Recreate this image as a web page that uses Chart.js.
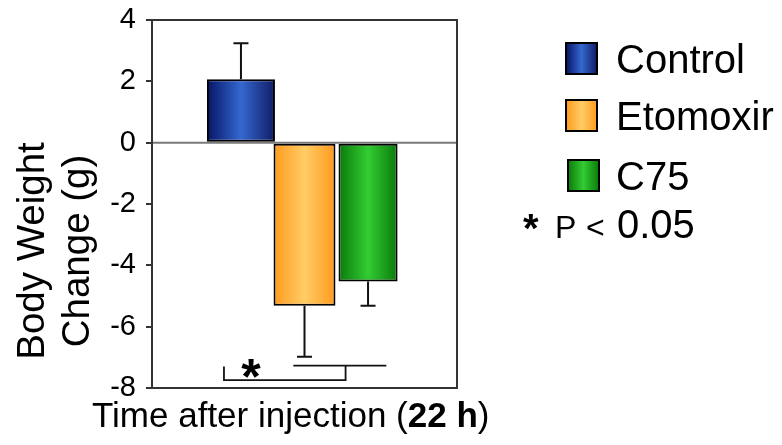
<!DOCTYPE html>
<html><head><meta charset="utf-8">
<script src="https://cdn.jsdelivr.net/npm/chart.js@4/dist/chart.umd.min.js"></script>
<style>html,body{margin:0;padding:0;background:#fff}#wrap{width:782px;height:445px;position:relative}</style>
</head><body><div id="wrap"><canvas id="c"></canvas></div>
<script>
// ---- data ----
const groups = ['Control', 'Etomoxir', 'C75'];
const changeValues = [2.07, -5.32, -4.53];      // body weight change (g)
const errorValues = [1.17, 1.66, 0.79];         // error bar length (g)
const yTickValues = [4, 2, 0, -2, -4, -6, -8];
const xTitleNormal = 'Time after injection (';
const xTitleBold = '22 h';
const xTitleEnd = ')';
const yTitleLines = ['Body Weight', 'Change (g)'];
const sigText = ['*', 'P', '<', '0.05'];
const bracketLevels = [-7.30, -7.74, -7.27];   // bracket y levels (g)

// ---- styles ----
const FONT = '"Liberation Sans", Arial, Helvetica, sans-serif';
const gradients = [
  ['#061466', '#3468cf', '#101c66'],
  ['#ff9a1c', '#ffcc66', '#ff9a1c'],
  ['#0a7a0a', '#33cc33', '#0a7a0a']
];
const barPct = [1.07, 0.975, 0.93];

function grad(ctx, x0, x1, s) {
  const g = ctx.createLinearGradient(x0, 0, x1, 0);
  g.addColorStop(0, s[0]); g.addColorStop(0.5, s[1]); g.addColorStop(1, s[2]);
  return g;
}

const custom = {
  id: 'custom',
  beforeDatasetsDraw(chart) {
    const { ctx, chartArea: a, scales: { y } } = chart;
    const y0 = y.getPixelForValue(0);
    ctx.save();
    ctx.strokeStyle = '#7a7a7a'; ctx.lineWidth = 2;
    ctx.beginPath(); ctx.moveTo(a.left, y0); ctx.lineTo(a.right, y0); ctx.stroke();
    ctx.restore();
    chart.data.datasets.forEach((ds, i) => {
      const el = chart.getDatasetMeta(i).data[0];
      const l = el.x - el.width / 2, r = el.x + el.width / 2;
      el.options = Object.assign({}, el.options, { backgroundColor: grad(ctx, l, r, gradients[i]) });
    });
  },
  afterDatasetsDraw(chart) {
    const { ctx, chartArea: a, scales: { y } } = chart;
    ctx.save();
    ctx.strokeStyle = '#111'; ctx.lineWidth = 2;
    const els = chart.data.datasets.map((d, i) => chart.getDatasetMeta(i).data[0]);
    // error bars (one-sided)
    els.forEach((el, i) => {
      const v = changeValues[i], e = errorValues[i];
      const end = v >= 0 ? v + e : v - e;
      const yb = y.getPixelForValue(v), ye = y.getPixelForValue(end);
      ctx.beginPath();
      ctx.moveTo(el.x, yb); ctx.lineTo(el.x, ye);
      ctx.moveTo(el.x - 7.5, ye); ctx.lineTo(el.x + 7.5, ye);
      ctx.stroke();
    });
    // significance bracket
    const xl = els[0].x - 0.25 * els[0].width;
    const xr = els[2].x - 0.38 * els[2].width;
    const x2a = els[1].x - 0.18 * els[1].width;
    const x2b = els[2].x + 0.31 * els[2].width;
    const yTop = y.getPixelForValue(bracketLevels[0]);
    const yLow = y.getPixelForValue(bracketLevels[1]);
    const yTop2 = y.getPixelForValue(bracketLevels[2]);
    ctx.lineWidth = 1.8;
    ctx.beginPath();
    ctx.moveTo(xl, yTop); ctx.lineTo(xl, yLow); ctx.lineTo(xr, yLow); ctx.lineTo(xr, yTop2);
    ctx.moveTo(x2a, yTop2); ctx.lineTo(x2b, yTop2);
    ctx.stroke();
    ctx.fillStyle = '#000';
    ctx.font = 'bold 50px ' + FONT;
    ctx.textAlign = 'center'; ctx.textBaseline = 'alphabetic';
    ctx.fillText('*', xl + 27, yLow + 14);
    // frame
    ctx.strokeStyle = '#333'; ctx.lineWidth = 2;
    ctx.strokeRect(a.left, a.top, a.right - a.left, a.bottom - a.top);
    ctx.restore();
  },
  afterDraw(chart) {
    const { ctx } = chart;
    ctx.save();
    ctx.fillStyle = '#000';
    // y title
    ctx.save();
    ctx.font = '38.5px ' + FONT;
    ctx.textAlign = 'center'; ctx.textBaseline = 'alphabetic';
    ctx.translate(0, 251);
    ctx.rotate(-Math.PI / 2);
    ctx.fillText(yTitleLines[0], 0, 44);
    ctx.fillText(yTitleLines[1], 0, 89);
    ctx.restore();
    // x title
    ctx.textAlign = 'left'; ctx.textBaseline = 'alphabetic';
    let x = 92; const by = 427;
    ctx.font = '35px ' + FONT;
    ctx.fillText(xTitleNormal, x, by); x += ctx.measureText(xTitleNormal).width;
    ctx.font = 'bold 35px ' + FONT;
    ctx.fillText(xTitleBold, x, by); x += ctx.measureText(xTitleBold).width;
    ctx.font = '35px ' + FONT;
    ctx.fillText(xTitleEnd, x, by);
    // legend
    const boxes = [[566, 43], [566, 100], [568, 160]];
    const base = [73, 130, 190];
    groups.forEach((g, i) => {
      const [bx, byy] = boxes[i];
      ctx.fillStyle = grad(ctx, bx, bx + 31, gradients[i]);
      ctx.fillRect(bx, byy, 31, 31);
      ctx.strokeStyle = '#000'; ctx.lineWidth = 2;
      ctx.strokeRect(bx, byy, 31, 31);
      ctx.fillStyle = '#000';
      ctx.font = '40px ' + FONT;
      ctx.fillText(g, 616, base[i]);
    });
    // significance note
    ctx.font = 'bold 40px ' + FONT;
    ctx.fillText(sigText[0], 523, 242);
    ctx.font = '32px ' + FONT;
    ctx.fillText(sigText[1], 555, 238);
    ctx.font = '32px ' + FONT;
    ctx.fillText(sigText[2], 586, 238);
    ctx.font = '40px ' + FONT;
    ctx.fillText(sigText[3], 617, 238);
    ctx.restore();
  }
};

const datasets = groups.map((g, i) => ({
  label: g,
  data: [changeValues[i]],
  backgroundColor: gradients[i][1],
  borderColor: '#000',
  borderWidth: 2,
  borderSkipped: false,
  barPercentage: barPct[i],
  categoryPercentage: 0.625
}));

new Chart(document.getElementById('c'), {
  type: 'bar',
  data: { labels: [''], datasets },
  options: {
    responsive: true,
    maintainAspectRatio: false,
    animation: false,
    layout: { padding: { left: 0, top: 20, right: 325, bottom: 57 } },
    plugins: { legend: { display: false }, tooltip: { enabled: false } },
    scales: {
      x: { display: false },
      y: {
        min: -8, max: 4,
        afterFit(scale) { scale.width = 152; scale.paddingTop = 0; scale.paddingBottom = 0; },
        afterBuildTicks(scale) { scale.ticks = yTickValues.map(v => ({ value: v })); },
        ticks: { color: '#000', font: { size: 29, family: FONT }, padding: 10 },
        grid: { drawOnChartArea: false, drawTicks: true, tickLength: 6, color: '#333', lineWidth: 2 },
        border: { display: true, color: '#333', width: 2 }
      }
    }
  },
  plugins: [custom]
});
</script>
</body></html>
